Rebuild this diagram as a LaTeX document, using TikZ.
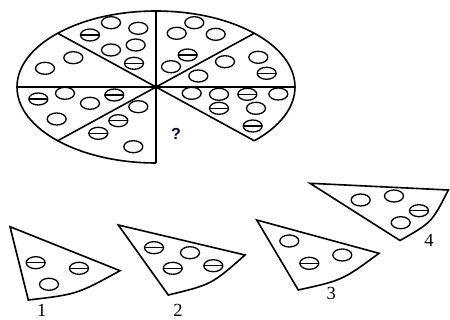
\documentclass[tikz,border=0pt]{standalone}
\usepackage{fontspec}
\setmainfont{Liberation Serif}
\setsansfont{Liberation Sans}
\usetikzlibrary{shapes.geometric}
\begin{document}
\begin{tikzpicture}[x=1pt,y=-1pt,
  edge/.style={line width=1.6pt},
  dot/.style={ellipse, draw, line width=1.3pt, minimum width=19pt, minimum height=12pt, inner sep=0pt},
  bar/.style={dot, path picture={\draw[line width=1.3pt] (path picture bounding box.west) -- (path picture bounding box.east);}},
  lbl/.style={font=\fontsize{18.5}{20}\selectfont, inner sep=0pt},
  qmark/.style={font=\sffamily\bfseries\fontsize{16}{17}\selectfont, text=black!85!blue, inner sep=0pt}]
\useasboundingbox (0,0) rectangle (450,320);
% pizza
\coordinate (C) at (156,87);
\draw[edge] (C) ++(0,76) arc[start angle=90, end angle=405, x radius=139, y radius=76];
\foreach \a in {0,45,...,315} \draw[edge] (C) -- ++(\a:139 and 76);
\fill (C) circle[radius=2.3];
% slice 90-135 (upper left top)
\node[dot] (a1) at (111,22.7) {};
\node[dot] (a2) at (138.3,28.3) {};
\node[bar] (a3) at (90,35) {};
\node[dot] (a4) at (111,50) {};
\node[dot] (a5) at (135.7,45) {};
\node[bar] (a6) at (134,63.3) {};
% slice 45-90 (upper right top)
\node[dot] (b1) at (194.3,22.7) {};
\node[dot] (b2) at (176.7,33.3) {};
\node[dot] (b3) at (215.7,34.3) {};
\node[bar] (b4) at (187.7,55) {};
\node[dot] (b5) at (171,66.7) {};
% slice 0-45 (right upper)
\node[dot] (c1) at (225,61.7) {};
\node[dot] (c2) at (258.3,57.3) {};
\node[bar] (c3) at (266.7,73.3) {};
\node[dot] (c4) at (198.3,76) {};
% slice 135-180 (left upper)
\node[dot] (d1) at (73.3,57.7) {};
\node[dot] (d2) at (45,68.3) {};
% slice 180-225 (left lower)
\node[bar] (e1) at (38.3,99) {};
\node[dot] (e2) at (65,93.3) {};
\node[dot] (e3) at (90,103.3) {};
\node[bar] (e4) at (114.3,95) {};
\node[dot] (e5) at (56.7,119) {};
% slice 225-270 (lower left bottom)
\node[dot] (f1) at (138.3,106.7) {};
\node[bar] (f2) at (118.3,120.7) {};
\node[bar] (f3) at (98.3,133.3) {};
\node[dot] (f4) at (133.3,146.7) {};
% slice 315-360 (right lower)
\node[dot] (g1) at (191.7,93.3) {};
\node[dot] (g2) at (219,94.3) {};
\node[bar] (g3) at (247.3,94.3) {};
\node[dot] (g4) at (278.3,94) {};
\node[bar] (g5) at (219,108.3) {};
\node[dot] (g6) at (256,108.3) {};
\node[bar] (g7) at (252.7,126) {};
\node[qmark] (q) at (176,134) {?};
% piece 1
\draw[edge] (10,226.7) -- (28.3,300) .. controls (77,294.3) .. (120,270.7) -- cycle;
\node[bar] (p1a) at (35.7,262.7) {};
\node[bar] (p1b) at (79,268.3) {};
\node[dot] (p1c) at (49,284.3) {};
\node[lbl] (l1) at (41.7,310.5) {1};
% piece 2
\draw[edge] (118.3,225) -- (168.3,295) .. controls (211.6,284.5) .. (245,255) -- cycle;
\node[bar] (p2a) at (154,247.7) {};
\node[dot] (p2b) at (190,252.7) {};
\node[bar] (p2c) at (172.7,268.3) {};
\node[bar] (p2d) at (213.3,265.7) {};
\node[lbl] (l2) at (178,310.5) {2};
% piece 3
\draw[edge] (256.7,220) -- (298.3,290) .. controls (342.5,280.2) .. (379,253.3) -- cycle;
\node[dot] (p3a) at (289.3,241) {};
\node[dot] (p3b) at (342.3,255) {};
\node[bar] (p3c) at (309.3,263.3) {};
\node[lbl] (l3) at (331.3,293.7) {3};
% piece 4
\draw[edge] (310,183.3) -- (448.3,190) .. controls (431.9,222.4) .. (400,240.5) -- cycle;
\node[dot] (p4a) at (360.7,200) {};
\node[dot] (p4b) at (394,196) {};
\node[bar] (p4c) at (419,210.7) {};
\node[dot] (p4d) at (400.7,222.7) {};
\node[lbl] (l4) at (429,240) {4};
\end{tikzpicture}
\end{document}
